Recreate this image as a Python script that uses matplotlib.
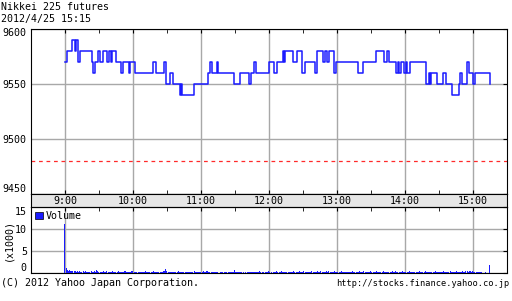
import matplotlib
matplotlib.use("Agg")
import matplotlib.pyplot as plt
from matplotlib.patches import Patch

# minutes after 9:00 where the price changes, and the new price
price_t = [0, 1.5, 6.5, 8.6, 9.4, 11.5, 13, 24.2, 24.7, 26.5, 29.2, 30.7, 33.5, 37.3,
           38.8, 40.5, 41.5, 44.7, 49.1, 51.2, 56.5, 57.4, 61.5, 77.4, 80.3, 87.1,
           89.1, 92.4, 95, 101.2, 102, 103, 113.6, 126.2, 127.7, 129.7, 134.1, 135,
           149.1, 154.4, 162.7, 163.9, 166.8, 168.5, 180, 184.4, 187.4, 192.6, 193.5,
           194.5, 201.5, 204.7, 209.7, 211.8, 220.6, 222.9, 227.4, 229.4, 231.5,
           233.2, 237.6, 239.1, 258.5, 263, 274.8, 282.1, 284.1, 286.5, 292.7, 294,
           295, 297, 299, 300.9, 302, 304.4, 318.5, 321, 322, 323, 328.2, 334.1,
           336.2, 342.1, 347.7, 348.9, 350.4, 354.7, 355.3, 356.8, 360.6, 362, 375]
price_v = [9570, 9580, 9590, 9580, 9590, 9570, 9580, 9570, 9560, 9570, 9580, 9570, 9580, 9570,
           9580, 9570, 9580, 9570, 9560, 9570, 9560, 9570, 9560, 9570, 9560, 9570,
           9550, 9560, 9550, 9540, 9550, 9540, 9550, 9560, 9570, 9560, 9570, 9560,
           9550, 9560, 9550, 9560, 9570, 9560, 9570, 9560, 9570, 9580, 9570,
           9580, 9570, 9580, 9560, 9570, 9560, 9580, 9570, 9580, 9570,
           9580, 9560, 9570, 9560, 9570, 9580, 9570, 9580, 9570, 9560, 9570,
           9560, 9570, 9560, 9570, 9560, 9570, 9550, 9560, 9550, 9560, 9550, 9560,
           9550, 9540, 9550, 9560, 9550, 9560, 9570, 9560, 9550, 9560, 9550]
prev_close = 9480

# volume per minute (x1000), minute 0 = 9:00
volume = [
    11.1, 1.2, 0.6, 0.5, 0.6, 0.5, 0.4, 0.5, 0.4, 0.4, 0.3, 0.4, 0.3, 0.4, 0.3, 0.3, 0.4, 0.3, 0.4, 0.3, 0.3, 0.2, 0.3, 0.4, 0.3,
    0.3, 0.4, 0.3, 0.6, 0.4, 0.3, 0.3, 0.2, 0.3, 0.4, 0.3, 0.3, 0.4, 0.3, 0.2, 0.3, 0.3, 0.4, 0.3, 0.2, 0.3, 0.3, 0.4, 0.3, 0.3,
    0.2, 0.3, 0.3, 0.4, 0.3, 0.2, 0.3, 0.3, 0.2, 0.5, 0.4, 0.3, 0.3, 0.2, 0.1, 0.2, 0.3, 0.3, 0.3, 0.2, 0.3, 0.4, 0.3, 0.2, 0.3,
    0.3, 0.2, 0.3, 0.4, 0.3, 0.3, 0.2, 0.3, 0.3, 0.2, 0.3, 0.3, 0.4, 0.5, 0.8, 0.4, 0.3, 0.3, 0.3, 0.2, 0.3, 0.3, 0.2, 0.3, 0.3,
    0.4, 0.3, 0.3, 0.2, 0.3, 0.2, 0.3, 0.3, 0.2, 0.2, 0.3, 0.3, 0.2, 0.3, 0.4, 0.3, 0.2, 0.3, 0.3, 0.2, 0.3, 0.3, 0.4, 0.3, 0.3,
    0.5, 0.4, 0.3, 0.3, 0.2, 0.3, 0.3, 0.2, 0.3, 0.3, 0.2, 0.1, 0.2, 0.3, 0.2, 0.1, 0.2, 0.3, 0.2, 0.3, 0.3, 0.2, 0.3, 0.2, 0.3,
    0.7, 0.3, 0.2, 0.3, 0.2, 0.3, 0.2, 0.1, 0.2, 0.3, 0.1, 0.2, 0.3, 0.2, 0.3, 0.2, 0.3, 0.3, 0.2, 0.2, 0.3, 0.3, 0.4, 0.3, 0.2,
    0.2, 0.1, 0.2, 0.3, 0.3, 0.4, 0.3, 0.2, 0.1, 0.2, 0.3, 0.2, 0.4, 0.3, 0.2, 0.3, 0.4, 0.3, 0.3, 0.2, 0.3, 0.2, 0.3, 0.3, 0.2,
    0.3, 0.3, 0.4, 0.3, 0.3, 0.2, 0.3, 0.4, 0.3, 0.3, 0.3, 0.4, 0.3, 0.2, 0.3, 0.3, 0.2, 0.3, 0.4, 0.3, 0.3, 0.2, 0.3, 0.4, 0.3,
    0.3, 0.4, 0.3, 0.3, 0.2, 0.3, 0.4, 0.3, 0.5, 0.3, 0.3, 0.2, 0.3, 0.4, 0.3, 0.3, 0.2, 0.3, 0.3, 0.4, 0.3, 0.2, 0.3, 0.3, 0.2,
    0.3, 0.3, 0.2, 0.3, 0.4, 0.3, 0.2, 0.3, 0.3, 0.3, 0.4, 0.3, 0.2, 0.3, 0.4, 0.3, 0.3, 0.2, 0.3, 0.3, 0.4, 0.3, 0.3, 0.2, 0.3,
    0.4, 0.3, 0.3, 0.3, 0.2, 0.3, 0.4, 0.3, 0.3, 0.2, 0.3, 0.3, 0.2, 0.3, 0.4, 0.3, 0.3, 0.4, 0.3, 0.3, 0.2, 0.3, 0.3, 0.4, 0.3,
    0.3, 0.2, 0.3, 0.3, 0.4, 0.3, 0.3, 0.2, 0.3, 0.3, 0.2, 0.3, 0.3, 0.4, 0.3, 0.2, 0.3, 0.3, 0.4, 0.3, 0.3, 0.2, 0.3, 0.3, 0.2,
    0.3, 0.3, 0.4, 0.3, 0.2, 0.3, 0.3, 0.2, 0.3, 0.4, 0.3, 0.3, 0.2, 0.3, 0.3, 0.4, 0.3, 0.2, 0.3, 0.3, 0.3, 0.4, 0.3, 0.3, 0.2,
    0.3, 0.4, 0.3, 0.3, 0.5, 0.4, 0.3, 0.4, 0.5, 0.3, 0.4, 0.3, 0.3, 0.2, 0.3, 0.3, 0.2, 0.3, 0.2, 0.1, 0.1, 0.2, 0.1, 0.1, 0.1,
    1.8,
]
vol_t = list(range(len(volume)))

hour_pos = [0, 60, 120, 180, 240, 300, 360]
hour_labels = ["9:00", "10:00", "11:00", "12:00", "13:00", "14:00", "15:00"]
half_pos = [-30, 30, 90, 150, 210, 270, 330, 390]
price_ticks = [9450, 9500, 9550, 9600]
vol_ticks = [0, 5, 10, 15]

plt.rcParams["font.family"] = ["DejaVu Sans Mono"]
plt.rcParams["font.size"] = 7.2
blue = "#1a1aff"
grid_c = "#a8a8a8"

fig = plt.figure(figsize=(5.12, 3.01), dpi=100)
L, W = 31 / 512, 475.7 / 512

def fy(px):
    return 1 - px / 301

# price panel
ax = fig.add_axes([L, fy(194), W, fy(28.5) - fy(194)])
ax.step(price_t, price_v, where="post", color=blue, lw=1.1, zorder=3)
ax.axhline(prev_close, color="#ff2a2a", lw=0.9, ls=(0, (3, 3)), zorder=2)
ax.set_xlim(-30, 390)
ax.set_ylim(9450, 9600)
ax.set_xticks(hour_pos)
ax.set_xticks(half_pos, minor=True)
ax.set_xticklabels([])
ax.set_yticks(price_ticks)
ax.set_yticklabels([str(v) for v in price_ticks])
ax.grid(True, axis="both", which="major", color=grid_c, lw=1)
ax.tick_params(axis="x", which="both", direction="in", top=True, bottom=True, length=3, color="black")
ax.tick_params(axis="y", direction="in", left=False, right=True, length=3, pad=3)
labs = ax.get_yticklabels()
labs[0].set_verticalalignment("bottom")
labs[-1].set_verticalalignment("top")
for s in ax.spines.values():
    s.set_color("black")

# time label band
band = fig.add_axes([L, fy(207), W, fy(194) - fy(207)], facecolor="#e6e6e6")
band.set_xlim(-30, 390)
band.set_ylim(0, 1)
band.set_xticks([])
band.set_yticks([])
for x, lab in zip(hour_pos, hour_labels):
    band.text(x, 0.45, lab, ha="center", va="center")
for s in band.spines.values():
    s.set_color("black")

# volume panel
av = fig.add_axes([L, fy(273), W, fy(207) - fy(273)])
av.bar(vol_t, volume, width=0.9, color=blue, zorder=3)
av.set_xlim(-30, 390)
av.set_ylim(0, 15)
av.set_xticks(hour_pos)
av.set_xticks(half_pos, minor=True)
av.set_xticklabels([])
av.set_yticks(vol_ticks)
av.set_yticklabels([str(v) for v in vol_ticks])
av.grid(True, axis="both", which="major", color=grid_c, lw=1)
av.tick_params(axis="x", which="both", direction="in", top=True, bottom=False, length=3)
av.tick_params(axis="y", direction="in", left=False, right=True, length=3, pad=3)
vl = av.get_yticklabels()
vl[0].set_verticalalignment("bottom")
vl[-1].set_verticalalignment("top")
av.legend(handles=[Patch(facecolor=blue, edgecolor="black", lw=0.5, label="Volume")],
          loc="upper left", frameon=False, handlelength=0.8, handleheight=0.8,
          handletextpad=0.3, borderaxespad=0.2, borderpad=0.2)
for s in av.spines.values():
    s.set_color("black")

fig.text(8 / 512, fy(240), "(x1000)", rotation=90, ha="center", va="center")
fig.text(0.002, fy(7), "Nikkei 225 futures", ha="left", va="center")
fig.text(0.002, fy(19), "2012/4/25 15:15", ha="left", va="center")
fig.text(0.002, fy(283), "(C) 2012 Yahoo Japan Corporation.", ha="left", va="center")
fig.text(509 / 512, fy(283), "http://stocks.finance.yahoo.co.jp", ha="right", va="center",
         fontsize=6.2)

fig.savefig("out.png", dpi=100)
